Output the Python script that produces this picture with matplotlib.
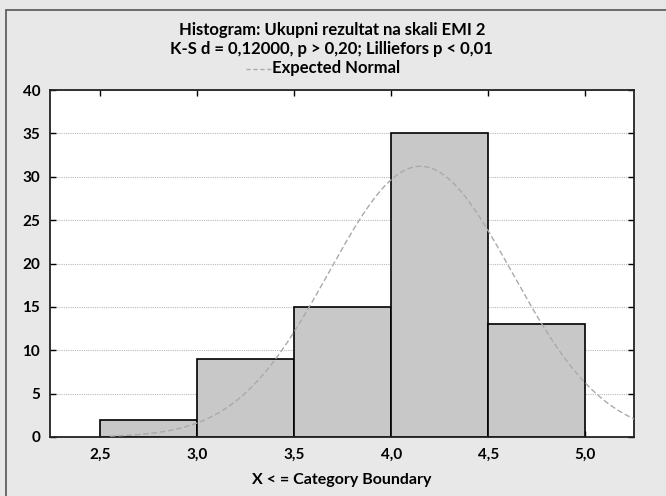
import numpy as np
import matplotlib.pyplot as plt
from matplotlib.patches import Rectangle
from matplotlib.lines import Line2D

# histogram bins (upper category boundaries) and counts
bin_edges = [2.5, 3.0, 3.5, 4.0, 4.5, 5.0]
counts = [2, 9, 15, 35, 13]

# expected normal parameters
n_total = sum(counts)
mean = 4.15
sd = 0.473

x_ticks = [2.5, 3.0, 3.5, 4.0, 4.5, 5.0]
x_labels = ["2,5", "3,0", "3,5", "4,0", "4,5", "5,0"]
y_ticks = [0, 5, 10, 15, 20, 25, 30, 35, 40]

plt.rcParams['font.family'] = ['Lato', 'DejaVu Sans']

fig = plt.figure(figsize=(6.66, 4.96), dpi=100)
fig.patch.set_facecolor('#e8e8e8')
fig.patches.append(Rectangle((6/666, -0.1), 2, (496-10)/496 + 0.1, transform=fig.transFigure,
                             fill=False, edgecolor='#555555', lw=1.2))

ax = fig.add_axes([50/666, 1 - 437/496, (634-50)/666, (437-90)/496])
ax.set_facecolor('white')

widths = np.diff(bin_edges)
ax.bar(bin_edges[:-1], counts, width=widths, align='edge',
       color='#c8c8c8', edgecolor='black', linewidth=1.2, zorder=2)

xs = np.linspace(2.55, 5.3, 300)
binw = widths[0]
ys = n_total * binw / (sd * np.sqrt(2 * np.pi)) * np.exp(-0.5 * ((xs - mean) / sd) ** 2)
ax.plot(xs, ys, color='#aaaaaa', lw=1.0, ls=(0, (4, 2)), zorder=3)

ax.set_xlim(2.242, 5.25)
ax.set_ylim(0, 40)
ax.set_xticks(x_ticks)
ax.set_xticklabels(x_labels)
ax.set_yticks(y_ticks)
ax.yaxis.grid(True, color='#bbbbbb', ls=(0, (1, 1)), lw=0.8, zorder=0)
ax.set_axisbelow(True)
ax.tick_params(direction='in', top=True, right=True, length=4, width=1,
               labelsize=11, pad=8)
ax.tick_params(axis='y', pad=7)
for lab in ax.get_xticklabels() + ax.get_yticklabels():
    lab.set_fontweight('bold')
for s in ax.spines.values():
    s.set_linewidth(1.3)
    s.set_color('#222222')

fig.text(342/666, 1 - 480/496, "X < = Category Boundary",
         ha='center', va='center', fontsize=11.5, fontweight='bold')

fig.text(332/666, 1 - 30/496, "Histogram: Ukupni rezultat na skali EMI 2",
         ha='center', va='center', fontsize=12, fontweight='bold')
fig.text(331/666, 1 - 49/496, "K-S d = 0,12000, p > 0,20; Lilliefors p < 0,01",
         ha='center', va='center', fontsize=12, fontweight='bold')
fig.text(272/666, 1 - 68/496, "Expected Normal",
         ha='left', va='center', fontsize=12, fontweight='bold')
fig.lines.append(Line2D([246/666, 271/666], [1 - 69/496, 1 - 69/496], transform=fig.transFigure,
                        color='#aaaaaa', lw=1.0, ls=(0, (3, 2))))

fig.savefig("out.png", dpi=100, facecolor=fig.get_facecolor())
